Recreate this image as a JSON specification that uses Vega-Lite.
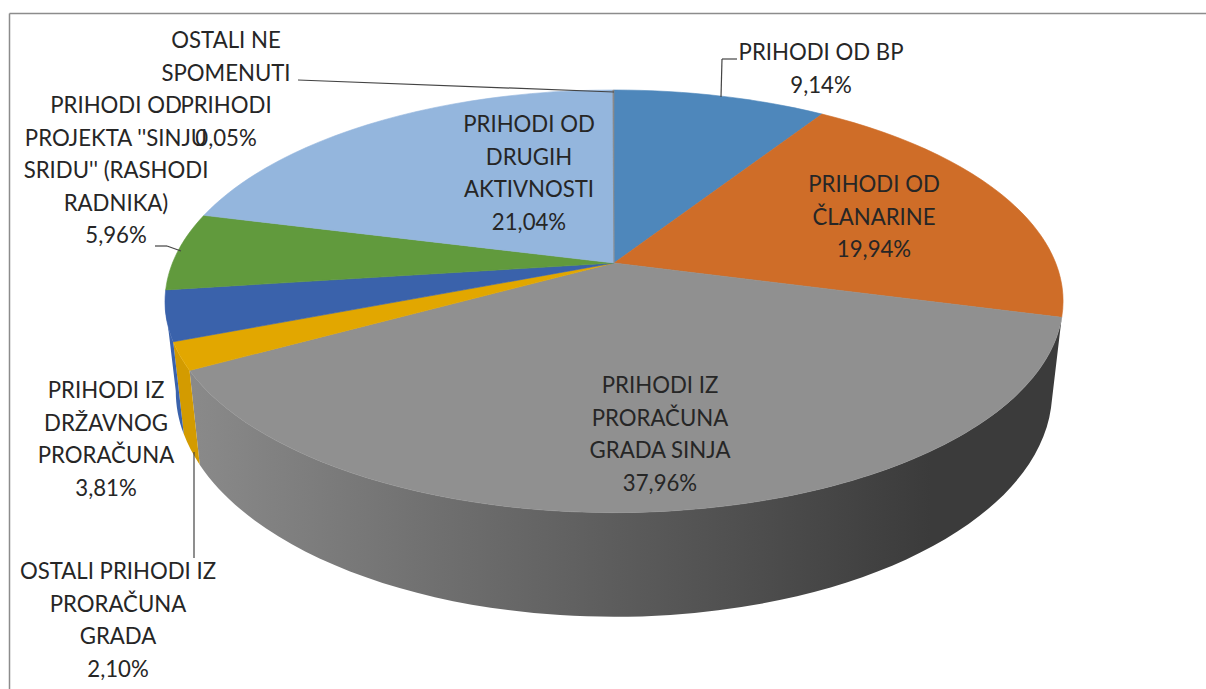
{"$schema":"https://vega.github.io/schema/vega-lite/v6.json","width":1206,"height":689,"padding":0,"autosize":"none","background":"white","view":{"stroke":null},"config":{"text":{"font":"Lato","fontSize":22.2,"fill":"#262626","lineBreak":"\n","lineHeight":32.5,"align":"center","baseline":"middle"},"rule":{"stroke":"#444444","strokeWidth":1.2}},"data":{"values":[{"o":1,"name":"PRIHODI OD BP","value":9.14,"label":"PRIHODI OD BP\n9,14%"},{"o":2,"name":"PRIHODI OD ČLANARINE","value":19.94,"label":"PRIHODI OD\nČLANARINE\n19,94%"},{"o":3,"name":"PRIHODI IZ PRORAČUNA GRADA SINJA","value":37.96,"label":"PRIHODI IZ\nPRORAČUNA\nGRADA SINJA\n37,96%"},{"o":4,"name":"OSTALI PRIHODI IZ PRORAČUNA GRADA","value":2.1,"label":"OSTALI PRIHODI IZ\nPRORAČUNA\nGRADA\n2,10%"},{"o":5,"name":"PRIHODI IZ DRŽAVNOG PRORAČUNA","value":3.81,"label":"PRIHODI IZ\nDRŽAVNOG\nPRORAČUNA\n3,81%"},{"o":6,"name":"PRIHODI OD PROJEKTA ''SINJU SRIDU'' (RASHODI RADNIKA)","value":5.96,"label":"PRIHODI OD\nPROJEKTA ''SINJU\nSRIDU'' (RASHODI\nRADNIKA)\n5,96%"},{"o":7,"name":"PRIHODI OD DRUGIH AKTIVNOSTI","value":21.04,"label":"PRIHODI OD\nDRUGIH\nAKTIVNOSTI\n21,04%"},{"o":8,"name":"OSTALI NE SPOMENUTI PRIHODI","value":0.05,"label":"OSTALI NE\nSPOMENUTI\nPRIHODI\n0,05%"}]},"transform":[{"stack":"value","groupby":[],"sort":[{"field":"o","order":"ascending"}],"as":["a0","a1"]}],"layer":[
{"data":{"values":[{}]},"mark":{"type":"rule","stroke":"#8c8c8c","strokeWidth":1.5},"encoding":{"x":{"datum":9.5,"type":"quantitative","scale":{"domain":[0,1206],"nice":false,"zero":false},"axis":null},"y":{"datum":13.5,"type":"quantitative","scale":{"domain":[0,689],"reverse":true,"nice":false,"zero":false},"axis":null},"x2":{"datum":1206},"y2":{"datum":13.5}}},
{"data":{"values":[{}]},"mark":{"type":"rule","stroke":"#8c8c8c","strokeWidth":1.5},"encoding":{"x":{"datum":9.5,"type":"quantitative"},"y":{"datum":13.5,"type":"quantitative"},"x2":{"datum":9.5},"y2":{"datum":689}}},
{"transform":[{"filter":"datum.o==3"}],"mark":{"type":"point","filled":true,"opacity":1,"size":4,"strokeWidth":0,"fill":{"gradient":"linear","x1":0,"x2":1,"y1":0,"y2":0,"stops":[{"offset":0,"color":"#8a8a8a"},{"offset":0.45,"color":"#606060"},{"offset":0.85,"color":"#3b3b3b"},{"offset":1,"color":"#3b3b3b"}]},"shape":{"expr":"'M'+(441.5*sin(datum.a0*PI/50)/(1+.182*cos(datum.a0*PI/50)))+','+(-204.5*cos(datum.a0*PI/50)/(1+.182*cos(datum.a0*PI/50)))+'A449,211,0,0,1,'+(441.5*sin(min(datum.a1,72.1)*PI/50)/(1+.182*cos(min(datum.a1,72.1)*PI/50)))+','+(-204.5*cos(min(datum.a1,72.1)*PI/50)/(1+.182*cos(min(datum.a1,72.1)*PI/50)))+'L'+(.976*441.5*sin(min(datum.a1,72.1)*PI/50)/(1+.182*cos(min(datum.a1,72.1)*PI/50)))+','+(87-1.067*204.5*cos(min(datum.a1,72.1)*PI/50)/(1+.182*cos(min(datum.a1,72.1)*PI/50)))+'A438,225,0,0,0,'+(.976*441.5*sin(datum.a0*PI/50)/(1+.182*cos(datum.a0*PI/50)))+','+(87-1.067*204.5*cos(datum.a0*PI/50)/(1+.182*cos(datum.a0*PI/50)))+'Z'"}},"encoding":{"x":{"datum":614,"type":"quantitative"},"y":{"datum":263,"type":"quantitative"}}},
{"transform":[{"filter":"datum.o==4"}],"mark":{"type":"point","filled":true,"opacity":1,"size":4,"strokeWidth":0,"fill":"#d39b00","shape":{"expr":"'M'+(441.5*sin(datum.a0*PI/50)/(1+.182*cos(datum.a0*PI/50)))+','+(-204.5*cos(datum.a0*PI/50)/(1+.182*cos(datum.a0*PI/50)))+'A449,211,0,0,1,'+(441.5*sin(min(datum.a1,72.1)*PI/50)/(1+.182*cos(min(datum.a1,72.1)*PI/50)))+','+(-204.5*cos(min(datum.a1,72.1)*PI/50)/(1+.182*cos(min(datum.a1,72.1)*PI/50)))+'L'+(.976*441.5*sin(min(datum.a1,72.1)*PI/50)/(1+.182*cos(min(datum.a1,72.1)*PI/50)))+','+(87-1.067*204.5*cos(min(datum.a1,72.1)*PI/50)/(1+.182*cos(min(datum.a1,72.1)*PI/50)))+'A438,225,0,0,0,'+(.976*441.5*sin(datum.a0*PI/50)/(1+.182*cos(datum.a0*PI/50)))+','+(87-1.067*204.5*cos(datum.a0*PI/50)/(1+.182*cos(datum.a0*PI/50)))+'Z'"}},"encoding":{"x":{"datum":614,"type":"quantitative"},"y":{"datum":263,"type":"quantitative"}}},
{"transform":[{"filter":"datum.o==5"}],"mark":{"type":"point","filled":true,"opacity":1,"size":4,"strokeWidth":0,"fill":"#3a62ab","shape":{"expr":"'M'+(441.5*sin(datum.a0*PI/50)/(1+.182*cos(datum.a0*PI/50)))+','+(-204.5*cos(datum.a0*PI/50)/(1+.182*cos(datum.a0*PI/50)))+'A449,211,0,0,1,'+(441.5*sin(min(datum.a1,72.1)*PI/50)/(1+.182*cos(min(datum.a1,72.1)*PI/50)))+','+(-204.5*cos(min(datum.a1,72.1)*PI/50)/(1+.182*cos(min(datum.a1,72.1)*PI/50)))+'L'+(.976*441.5*sin(min(datum.a1,72.1)*PI/50)/(1+.182*cos(min(datum.a1,72.1)*PI/50)))+','+(87-1.067*204.5*cos(min(datum.a1,72.1)*PI/50)/(1+.182*cos(min(datum.a1,72.1)*PI/50)))+'A438,225,0,0,0,'+(.976*441.5*sin(datum.a0*PI/50)/(1+.182*cos(datum.a0*PI/50)))+','+(87-1.067*204.5*cos(datum.a0*PI/50)/(1+.182*cos(datum.a0*PI/50)))+'Z'"}},"encoding":{"x":{"datum":614,"type":"quantitative"},"y":{"datum":263,"type":"quantitative"}}},
{"mark":{"type":"point","filled":true,"opacity":1,"size":4,"strokeWidth":0.6,"shape":{"expr":"'M0,0L'+(441.5*sin(datum.a0*PI/50)/(1+.182*cos(datum.a0*PI/50)))+','+(-204.5*cos(datum.a0*PI/50)/(1+.182*cos(datum.a0*PI/50)))+'A449,211,0,0,1,'+(441.5*sin(datum.a1*PI/50)/(1+.182*cos(datum.a1*PI/50)))+','+(-204.5*cos(datum.a1*PI/50)/(1+.182*cos(datum.a1*PI/50)))+'Z'"}},"encoding":{"x":{"datum":614,"type":"quantitative"},"y":{"datum":263,"type":"quantitative"},"fill":{"field":"name","type":"nominal","legend":null,"sort":{"field":"o"},"scale":{"domain":["PRIHODI OD BP","PRIHODI OD ČLANARINE","PRIHODI IZ PRORAČUNA GRADA SINJA","OSTALI PRIHODI IZ PRORAČUNA GRADA","PRIHODI IZ DRŽAVNOG PRORAČUNA","PRIHODI OD PROJEKTA ''SINJU SRIDU'' (RASHODI RADNIKA)","PRIHODI OD DRUGIH AKTIVNOSTI","OSTALI NE SPOMENUTI PRIHODI"],"range":["#4e87bb","#cf6d28","#909090","#e2a700","#3a62ab","#619a3d","#94b6dd","#8a8a8a"]}},"stroke":{"field":"name","type":"nominal","legend":null,"scale":{"domain":["PRIHODI OD BP","PRIHODI OD ČLANARINE","PRIHODI IZ PRORAČUNA GRADA SINJA","OSTALI PRIHODI IZ PRORAČUNA GRADA","PRIHODI IZ DRŽAVNOG PRORAČUNA","PRIHODI OD PROJEKTA ''SINJU SRIDU'' (RASHODI RADNIKA)","PRIHODI OD DRUGIH AKTIVNOSTI","OSTALI NE SPOMENUTI PRIHODI"],"range":["#4e87bb","#cf6d28","#909090","#e2a700","#3a62ab","#619a3d","#94b6dd","#8a8a8a"]}}}},
{"data":{"values":[{}]},"mark":"rule","encoding":{"x":{"datum":298,"type":"quantitative"},"y":{"datum":80,"type":"quantitative"},"x2":{"datum":614},"y2":{"datum":92}}},
{"data":{"values":[{}]},"mark":"rule","encoding":{"x":{"datum":737,"type":"quantitative"},"y":{"datum":59,"type":"quantitative"},"x2":{"datum":722},"y2":{"datum":59}}},
{"data":{"values":[{}]},"mark":"rule","encoding":{"x":{"datum":722,"type":"quantitative"},"y":{"datum":59,"type":"quantitative"},"x2":{"datum":721},"y2":{"datum":97}}},
{"data":{"values":[{}]},"mark":"rule","encoding":{"x":{"datum":155,"type":"quantitative"},"y":{"datum":246,"type":"quantitative"},"x2":{"datum":167},"y2":{"datum":246}}},
{"data":{"values":[{}]},"mark":"rule","encoding":{"x":{"datum":167,"type":"quantitative"},"y":{"datum":246,"type":"quantitative"},"x2":{"datum":181},"y2":{"datum":251}}},
{"data":{"values":[{}]},"mark":"rule","encoding":{"x":{"datum":194,"type":"quantitative"},"y":{"datum":452,"type":"quantitative"},"x2":{"datum":194},"y2":{"datum":558}}},
{"transform":[{"filter":"datum.o==1"}],"mark":"text","encoding":{"x":{"datum":821,"type":"quantitative"},"y":{"datum":53,"type":"quantitative"},"text":{"field":"label"}}},
{"transform":[{"filter":"datum.o==2"}],"mark":"text","encoding":{"x":{"datum":874,"type":"quantitative"},"y":{"datum":185,"type":"quantitative"},"text":{"field":"label"}}},
{"transform":[{"filter":"datum.o==3"}],"mark":"text","encoding":{"x":{"datum":660,"type":"quantitative"},"y":{"datum":386,"type":"quantitative"},"text":{"field":"label"}}},
{"transform":[{"filter":"datum.o==4"}],"mark":"text","encoding":{"x":{"datum":118,"type":"quantitative"},"y":{"datum":572,"type":"quantitative"},"text":{"field":"label"}}},
{"transform":[{"filter":"datum.o==5"}],"mark":"text","encoding":{"x":{"datum":106,"type":"quantitative"},"y":{"datum":391,"type":"quantitative"},"text":{"field":"label"}}},
{"transform":[{"filter":"datum.o==6"}],"mark":"text","encoding":{"x":{"datum":116,"type":"quantitative"},"y":{"datum":106,"type":"quantitative"},"text":{"field":"label"}}},
{"transform":[{"filter":"datum.o==7"}],"mark":"text","encoding":{"x":{"datum":529,"type":"quantitative"},"y":{"datum":125,"type":"quantitative"},"text":{"field":"label"}}},
{"transform":[{"filter":"datum.o==8"}],"mark":"text","encoding":{"x":{"datum":226,"type":"quantitative"},"y":{"datum":41,"type":"quantitative"},"text":{"field":"label"}}}
]}
